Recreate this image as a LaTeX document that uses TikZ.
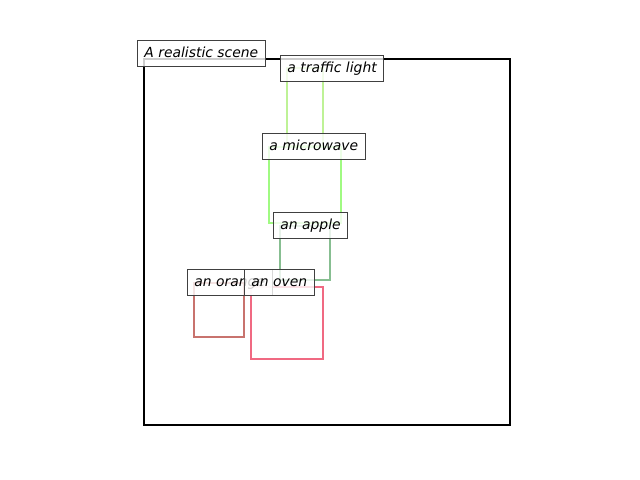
\documentclass[tikz,border=0pt]{standalone}
\usepackage{fontspec}
\setmainfont{DejaVu Sans}
\begin{document}
\begin{tikzpicture}[x=0.72pt,y=-0.72pt,
  lbl/.style={draw=black!75, line width=0.7pt, fill=white, fill opacity=0.8, text opacity=1,
    anchor=west, inner xsep=5pt, inner ysep=0pt, text height=7.4pt, text depth=2.3pt,
    minimum height=19.4pt, font=\fontsize{10}{12}\selectfont\itshape},
  obj/.style={line width=1.8pt, line join=miter}]
\definecolor{colTL}{RGB}{190,242,150}
\definecolor{colMW}{RGB}{160,250,130}
\definecolor{colAP}{RGB}{135,190,145}
\definecolor{colOR}{RGB}{200,115,110}
\definecolor{colOV}{RGB}{240,105,130}
\path[fill=white] (0,0) rectangle (640,480);
\draw[line width=1.6pt] (144,59) rectangle (510,425);
\draw[obj, draw=colTL] (287,68) rectangle (323,146);
\draw[obj, draw=colMW] (269,147) rectangle (341,223);
\draw[obj, draw=colAP] (280,226) rectangle (330,280);
\draw[obj, draw=colOR] (194,283) rectangle (244,337);
\draw[obj, draw=colOV] (251,287) rectangle (323,359);
\node[lbl] (scene) at (137,53.5) {A realistic scene};
\node[lbl] (tl) at (280,68.5) {a traffic light};
\node[lbl] (mw) at (262,146.5) {a microwave};
\node[lbl] (ap) at (273,225.5) {an apple};
\node[lbl] (or) at (187,282.5) {an orange};
\node[lbl] (ov) at (244,282.5) {an oven};
\end{tikzpicture}
\end{document}
